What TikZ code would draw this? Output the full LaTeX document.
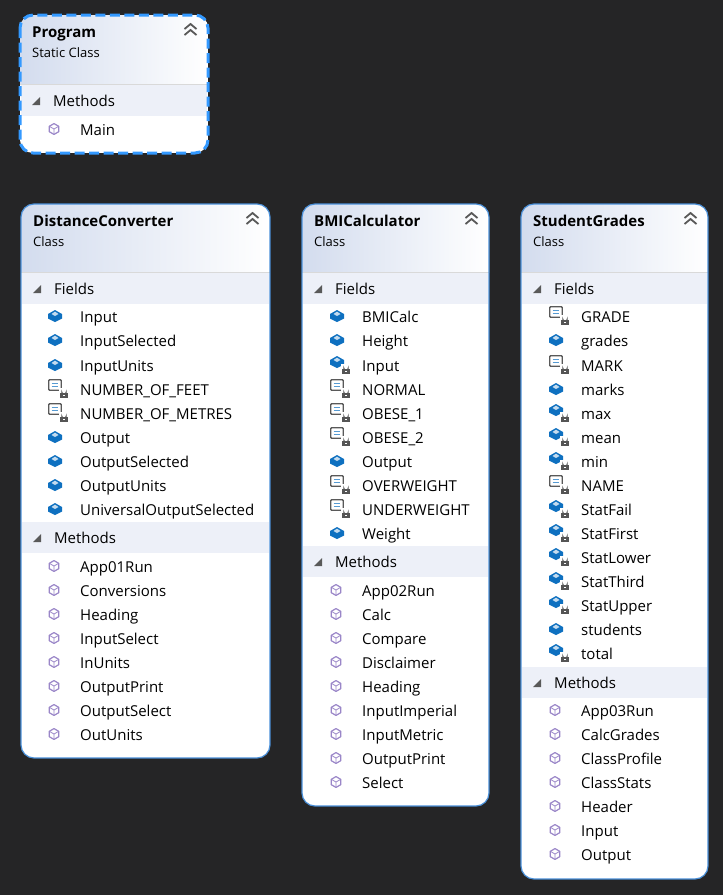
\documentclass[tikz,border=0pt]{standalone}
\usepackage{fontspec}
\setmainfont{Open Sans}
\usetikzlibrary{positioning}
\usetikzlibrary{shapes.geometric, arrows}

\definecolor{canvas}{HTML}{252526}
\definecolor{edgeblue}{HTML}{4A90D9}
\definecolor{selblue}{HTML}{3399FF}
\definecolor{headleft}{HTML}{D3DCEE}
\definecolor{band}{HTML}{EDF0F8}
\definecolor{fieldblue}{HTML}{0E70C0}
\definecolor{methodpurple}{HTML}{9A86C8}
\definecolor{lockgrey}{HTML}{555555}

\tikzset{
  x=1pt, y=-1pt,
  every node/.style={inner sep=0pt, font=\fontsize{15}{17}\selectfont, text=black},
  rowtext/.style={anchor=base west},
  classname/.style={anchor=base west, font=\fontsize{15}{17}\selectfont\bfseries},
  classkind/.style={anchor=base west, font=\fontsize{13}{15}\selectfont},
  fieldbox/.pic={
    \fill[fieldblue] (-7,-2) -- (0,-6) -- (7,-2) -- (7,2.5) -- (0,6) -- (-7,2.5) -- cycle;
    \fill[white!75!fieldblue] (-3.5,-2) -- (0,-4.4) -- (3.5,-2) -- (0,0) -- cycle;
  },
  constbox/.pic={
    \draw[black!65, line width=1.3pt, fill=white, rounded corners=1pt] (-6.3,-5.3) rectangle (6.3,5.3);
    \draw[fieldblue!70, line width=1.2pt] (-3.5,-1.7) -- (2.5,-1.7) (-3.5,1.3) -- (2.5,1.3);
  },
  methodbox/.pic={
    \draw[methodpurple, line width=1.2pt, fill=white, line join=round] (-4.7,-2.7) -- (0,-5.4) -- (4.7,-2.7) -- (4.7,2.7) -- (0,5.4) -- (-4.7,2.7) -- cycle;
    \draw[methodpurple, line width=.8pt] (-4.7,-2.7) -- (0,0) -- (4.7,-2.7) (0,0) -- (0,5.4);
  },
  lockbox/.pic={
    \fill[white] (-5,-6) rectangle (5,5.5);
    \draw[lockgrey, line width=1pt] (-2.2,-1) -- (-2.2,-2) arc (180:0:2.2) -- (2.2,-1);
    \fill[lockgrey] (-3.7,-1) rectangle (3.7,4.2);
    \fill[white] (-.8,.8) rectangle (.8,2.4);
  },
  foldmark/.pic={
    \fill[black!65] (4,-4) -- (4,4) -- (-4,4) -- cycle;
  },
  collapsemark/.pic={
    \draw[black!65, line width=1.8pt] (-6,-1) -- (0,-6) -- (6,-1) (-6,5) -- (0,0) -- (6,5);
  }
}

% box with header, args: name, left, top, right, bottom, title, kind, header end
\newcommand{\classbox}[8]{
  \begin{scope}
    \clip[rounded corners=13pt] (#2,#3) rectangle (#4,#5);
    \fill[white] (#2,#3) rectangle (#4,#5);
    \shade[left color=headleft, right color=white] (#2,#3) rectangle (#4,#8);
    \draw[black!15] (#2,#8) -- (#4,#8);
  \end{scope}
  \node[classname] (#1name) at (#2+12,#3+22) {#6};
  \node[classkind] (#1kind) at (#2+12,#3+42.5) {#7};
  \pic at (#4-17.5,#3+15) {collapsemark};
}
% section band, args: left, right, y of label, text
\newcommand{\sectionband}[5]{
  \fill[band] (#1+1,#3-15) rectangle (#2-1,#3+16);
  \pic at (#1+16,#3+1) {foldmark};
  \node[rowtext] (#5) at (#1+33,#3+6.3) {#4};
}

\begin{document}
\begin{tikzpicture}

\useasboundingbox (0,0) rectangle (723,895);
\fill[canvas] (0,0) rectangle (723,895);

% Program
\classbox{prog}{20}{15}{208}{153}{Program}{Static Class}{84}
\sectionband{20}{208}{100}{Methods}{progmeth}
\pic at (54,129) {methodbox};
\node[rowtext] (progmain) at (80,135.3) {Main};
\draw[selblue, line width=3pt, dash pattern=on 10pt off 4.5pt, rounded corners=13pt] (20,15) rectangle (208,153);

% DistanceConverter
\classbox{dist}{21}{204}{270}{758}{DistanceConverter}{Class}{272}
\sectionband{21}{270}{288}{Fields}{distfields}
\foreach \name/\ypos/\kind [count=\i] in {Input/316/f, InputSelected/340/f, InputUnits/365/f, NUMBER\_OF\_FEET/389/c, NUMBER\_OF\_METRES/413/c, Output/437/f, OutputSelected/461/f, OutputUnits/485/f, UniversalOutputSelected/509/f}{
  \node[rowtext] (distf\i) at (80,\ypos+6.3) {\name};
  \if\kind f \pic at (55,\ypos) {fieldbox}; \else \pic at (55,\ypos-4) {constbox}; \pic at (64,\ypos+5) {lockbox}; \fi
}
\sectionband{21}{270}{537}{Methods}{distmethods}
\foreach \name/\ypos [count=\i] in {App01Run/566, Conversions/590, Heading/614, InputSelect/638, InUnits/662, OutputPrint/686, OutputSelect/710, OutUnits/734}{
  \node[rowtext] (distm\i) at (80,\ypos+6.3) {\name};
  \pic at (54,\ypos) {methodbox};
}
\draw[edgeblue, line width=1.2pt, rounded corners=13pt] (21,204) rectangle (270,758);

% BMICalculator
\classbox{bmi}{302}{204}{489}{806}{BMICalculator}{Class}{272}
\sectionband{302}{489}{288}{Fields}{bmifields}
\foreach \name/\ypos/\kind [count=\i] in {BMICalc/316/f, Height/340/f, Input/365/p, NORMAL/389/c, OBESE\_1/413/c, OBESE\_2/437/c, Output/461/f, OVERWEIGHT/485/c, UNDERWEIGHT/509/c, Weight/533/f}{
  \node[rowtext] (bmif\i) at (362,\ypos+6.3) {\name};
  \if\kind c \pic at (337,\ypos-4) {constbox}; \pic at (346,\ypos+5) {lockbox};
  \else \if\kind p \pic at (337,\ypos-3) {fieldbox}; \pic at (346,\ypos+5) {lockbox}; \else \pic at (337,\ypos) {fieldbox}; \fi \fi
}
\sectionband{302}{489}{561}{Methods}{bmimethods}
\foreach \name/\ypos [count=\i] in {App02Run/590, Calc/614, Compare/638, Disclaimer/662, Heading/686, InputImperial/710, InputMetric/734, OutputPrint/758, Select/782}{
  \node[rowtext] (bmim\i) at (362,\ypos+6.3) {\name};
  \pic at (336,\ypos) {methodbox};
}
\draw[edgeblue, line width=1.2pt, rounded corners=13pt] (302,204) rectangle (489,806);

% StudentGrades
\classbox{stud}{521}{204}{708}{879}{StudentGrades}{Class}{272}
\sectionband{521}{708}{288}{Fields}{studfields}
\foreach \name/\ypos/\kind [count=\i] in {GRADE/316/c, grades/340/f, MARK/365/c, marks/389/f, max/413/p, mean/437/p, min/461/p, NAME/485/c, StatFail/509/p, StatFirst/533/p, StatLower/557/p, StatThird/581/p, StatUpper/605/p, students/629/f, total/653/p}{
  \node[rowtext] (studf\i) at (581,\ypos+6.3) {\name};
  \if\kind c \pic at (556,\ypos-4) {constbox}; \pic at (565,\ypos+5) {lockbox};
  \else \if\kind p \pic at (556,\ypos-3) {fieldbox}; \pic at (565,\ypos+5) {lockbox}; \else \pic at (556,\ypos) {fieldbox}; \fi \fi
}
\sectionband{521}{708}{682}{Methods}{studmethods}
\foreach \name/\ypos [count=\i] in {App03Run/710, CalcGrades/734, ClassProfile/758, ClassStats/782, Header/806, Input/830, Output/854}{
  \node[rowtext] (studm\i) at (581,\ypos+6.3) {\name};
  \pic at (555,\ypos) {methodbox};
}
\draw[edgeblue, line width=1.2pt, rounded corners=13pt] (521,204) rectangle (708,879);

\end{tikzpicture}
\end{document}
